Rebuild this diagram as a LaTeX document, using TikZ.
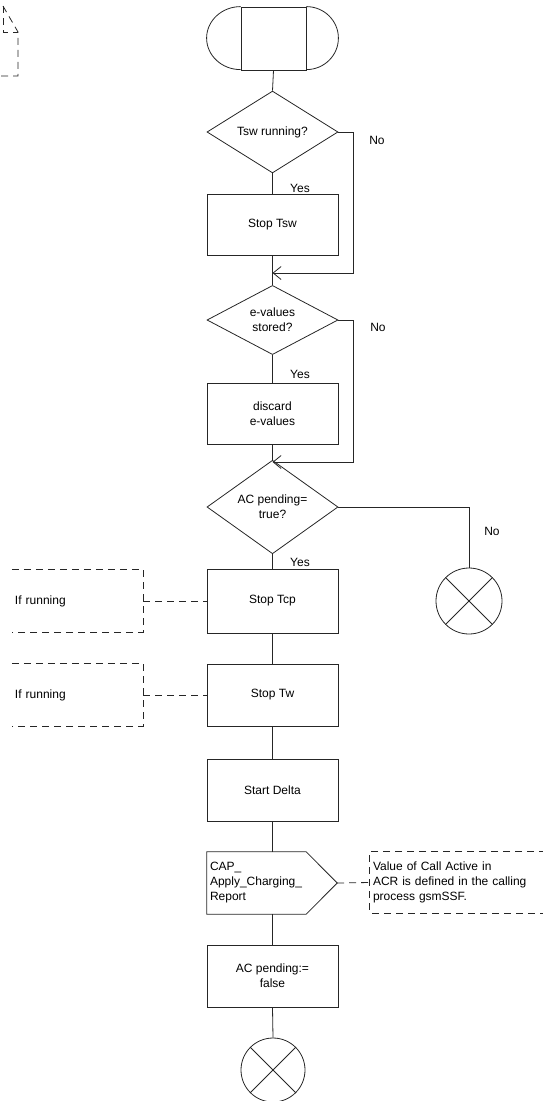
\documentclass[tikz,border=0pt]{standalone}
\usepackage{fontspec}
\setmainfont{Liberation Sans}
\usetikzlibrary{shapes.geometric,arrows.meta}
\begin{document}
\begin{tikzpicture}[x=1pt,y=-1pt,
  every node/.style={font=\fontsize{12}{15}\selectfont},
  line/.style={draw=black!85,line width=0.8pt},
  stepbox/.style={line,rectangle,minimum width=131pt,minimum height=62pt,inner sep=0pt,align=center},
  decision/.style={line,diamond,minimum width=131pt,minimum height=63pt,inner sep=0pt,align=center},
  terminator/.style={circle,line,minimum size=66pt,inner sep=0pt},
  cmt/.style={rectangle,inner sep=3pt,align=left},
  dashline/.style={line,dash pattern=on 7pt off 5pt},
  merge/.style={line,-{Straight Barb[length=8pt,width=13pt]}},
  lbl/.style={inner sep=0pt}]
\useasboundingbox (0,0) rectangle (542,1101);

% partial comment symbol at top left
\draw[dashline] (3,6) -- (18,32) -- (18,76) -- (0,76);
\draw[dashline] (3,6) -- (3,32) -- (18,32);

% start symbol
\node[line,rectangle,minimum width=65pt,minimum height=63pt,inner sep=0pt] (start) at (273.5,38.5) {};
\draw[line] (start.north west) arc[start angle=90,end angle=270,x radius=34pt,y radius=31.5pt];
\draw[line] (start.north east) arc[start angle=90,end angle=-90,x radius=32pt,y radius=31.5pt];

% decisions and boxes
\node[decision] (d1) at (272.5,132) {Tsw running?};
\node[stepbox,minimum height=61pt] (b1) at (272.5,224.5) {Stop Tsw};
\coordinate (m1) at (272.5,273);
\node[decision] (d2) at (272.5,320) {e-values\\stored?};
\node[stepbox,minimum height=61pt] (b2) at (272.5,413.5) {discard\\e-values};
\coordinate (m2) at (272.5,462);
\node[decision] (d3) at (272.5,507) {AC pending=\\true?};
\node[stepbox,minimum height=64pt] (b3) at (272.5,601) {Stop Tcp};
\node[terminator] (c1) at (469,601) {};
\node[stepbox] (b4) at (272.5,695) {Stop Tw};
\node[stepbox] (b5) at (272.5,790) {Start Delta};
\node[cmt,minimum width=130pt,minimum height=62pt,text width=124pt] (sig) at (272,883) {CAP\_\\Apply\_Charging\_\\Report};
\draw[line] (sig.north west) -- ([xshift=-31pt]sig.north east) -- (sig.east) -- ([xshift=-31pt]sig.south east) -- (sig.south west) -- cycle;
\node[stepbox] (b6) at (272.5,976) {AC pending:=\\false};
\node[terminator,minimum size=64pt] (c2) at (273,1070) {};

% crosses
\draw[line] (c1.north west) -- (c1.south east) (c1.north east) -- (c1.south west);
\draw[line] (c2.north west) -- (c2.south east) (c2.north east) -- (c2.south west);

% comments
\node[cmt,minimum width=131pt,minimum height=62pt,text width=125pt] (cm1) at (77.5,601) {If running};
\draw[dashline] (cm1.north west) -- (cm1.north east) -- (cm1.south east) -- (cm1.south west);
\node[cmt,minimum width=131pt,minimum height=62pt,text width=125pt] (cm2) at (77.5,695) {If running};
\draw[dashline] (cm2.north west) -- (cm2.north east) -- (cm2.south east) -- (cm2.south west);
\node[cmt,minimum width=176pt,minimum height=61pt,text width=170pt] (cm3) at (458,882.5) {Value of Call Active in\\ACR is defined in the calling\\process gsmSSF.};
\draw[dashline] (cm3.north east) -- (cm3.north west) -- (cm3.south west) -- (cm3.south east);

% connectors
\draw[line] (start.south) -- (d1.north);
\draw[line] (d1.south) -- (b1.north);
\draw[merge] (d1.east) -- ++(15,0) |- (m1);
\draw[line] (b1.south) -- (d2.north);
\draw[line] (d2.south) -- (b2.north);
\draw[merge] (d2.east) -- ++(15,0) |- (m2);
\draw[line] (b2.south) -- (d3.north);
\draw[line] (d3.south) -- (b3.north);
\draw[line] (d3.east) -| (c1.north);
\draw[line] (b3.south) -- (b4.north);
\draw[line] (b4.south) -- (b5.north);
\draw[line] (b5.south) -- (b5.south |- sig.north);
\draw[line] (b5.south |- sig.south) -- (b6.north);
\draw[line] (b6.south) -- (c2.north);
\draw[dashline] (cm1.east) -- (b3.west);
\draw[dashline] (cm2.east) -- (b4.west);
\draw[dashline] (sig.east) -- (cm3.west);

% labels
\node[lbl] (y1) at (300,188) {Yes};
\node[lbl] (n1) at (377,140) {No};
\node[lbl] (y2) at (300,374) {Yes};
\node[lbl] (n2) at (378,327) {No};
\node[lbl] (y3) at (300,562) {Yes};
\node[lbl] (n3) at (492,531) {No};
\end{tikzpicture}
\end{document}
